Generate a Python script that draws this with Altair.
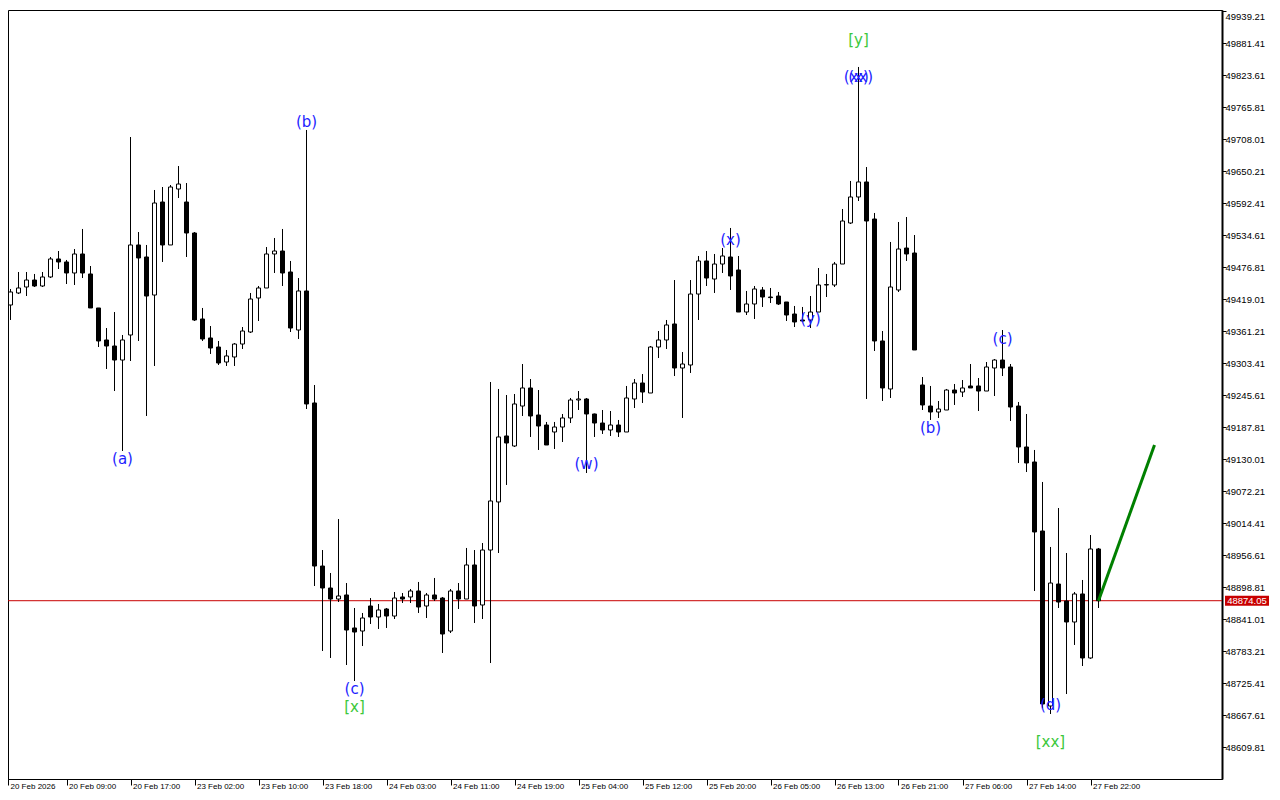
import json
import altair as alt
import pandas as pd

# ---- candle data (hourly bars, index 0..137) ----
open_ = [49382.9, 49408.2, 49429.9, 49440.7, 49453.3, 49442.5, 49458.8, 49491.3, 49485.9, 49466.0,
         49500.3, 49464.2, 49402.8, 49345.0, 49334.1, 49308.8, 49354.0, 49516.6, 49494.9, 49426.2,
         49594.2, 49516.6, 49617.7, 49594.2, 49538.2, 49382.9, 49348.6, 49332.3, 49305.2, 49314.3,
         49337.7, 49359.4, 49420.8, 49438.9, 49500.3, 49505.7, 49467.8, 49363.0, 49433.5, 49231.2,
         48936.7, 48897.0, 48877.1, 48884.4, 48824.8, 48819.3, 48864.5, 48844.6, 48859.1, 48846.4,
         48880.8, 48880.8, 48891.6, 48864.5, 48884.4, 48878.9, 48819.3, 48891.6, 48877.1, 48938.6,
         48866.3, 48965.6, 49052.4, 49171.6, 49153.5, 49225.7, 49258.3, 49209.5, 49191.4, 49178.8,
         49187.8, 49204.1, 49236.6, 49238.4, 49211.3, 49195.0, 49182.4, 49191.4, 49178.8, 49238.4,
         49267.3, 49249.2, 49332.3, 49345.0, 49373.9, 49294.4, 49299.8, 49428.0, 49487.7, 49455.1,
         49482.2, 49494.9, 49471.4, 49395.5, 49410.0, 49435.3, 49422.6, 49424.4, 49413.6, 49391.9,
         49381.1, 49381.1, 49395.5, 49444.3, 49444.3, 49482.2, 49556.3, 49603.3, 49630.4, 49563.5,
         49343.2, 49256.5, 49435.3, 49511.1, 49502.1, 49263.7, 49225.7, 49214.9, 49218.5, 49254.6,
         49251.0, 49261.9, 49261.9, 49252.8, 49294.4, 49308.8, 49296.2, 49225.7, 49151.7, 49124.6,
         48999.96, 48683.9, 48904.2, 48873.5, 48835.6, 48886.2, 48770.6, 48967.5]
high = [49408.2, 49437.1, 49467.8, 49467.8, 49464.2, 49467.8, 49494.9, 49505.7, 49489.5, 49509.3,
        49545.5, 49478.6, 49402.8, 49366.6, 49395.5, 49354.0, 49711.6, 49540.0, 49516.6, 49615.9,
        49621.3, 49624.9, 49659.2, 49628.5, 49540.0, 49402.8, 49370.2, 49343.2, 49326.9, 49339.5,
        49368.4, 49429.9, 49442.5, 49512.9, 49529.2, 49545.5, 49487.7, 49456.9, 49724.3, 49263.7,
        48965.6, 48924.1, 49021.6, 48906.0, 48860.9, 48851.9, 48878.9, 48868.1, 48860.9, 48889.8,
        48888.0, 48895.2, 48907.9, 48888.0, 48915.1, 48880.8, 48895.2, 48906.0, 48969.3, 48965.6,
        48978.3, 49269.1, 49256.5, 49245.6, 49247.4, 49301.6, 49274.5, 49254.6, 49196.9, 49196.9,
        49211.3, 49240.2, 49252.8, 49240.2, 49212.0, 49218.5, 49216.7, 49200.5, 49261.9, 49274.5,
        49283.5, 49334.1, 49361.2, 49381.1, 49453.3, 49323.3, 49453.3, 49496.7, 49505.7, 49500.3,
        49511.1, 49547.3, 49496.7, 49433.5, 49442.5, 49440.7, 49438.9, 49431.7, 49413.6, 49406.4,
        49404.6, 49424.4, 49475.0, 49464.2, 49485.9, 49581.6, 49632.2, 49838.1, 49657.4, 49574.4,
        49361.2, 49522.0, 49558.1, 49567.1, 49534.6, 49278.1, 49261.9, 49234.8, 49256.5, 49265.5,
        49272.7, 49301.6, 49276.3, 49305.2, 49310.6, 49363.0, 49301.6, 49233.0, 49211.3, 49146.3,
        49088.5, 48971.1, 49041.5, 48960.2, 48889.8, 48911.5, 48992.7, 48969.3]
low = [49381.1, 49381.1, 49428.0, 49424.4, 49440.7, 49440.7, 49456.9, 49473.2, 49446.1, 49444.3,
       49456.9, 49402.8, 49332.3, 49292.6, 49252.8, 49144.5, 49307.0, 49343.2, 49207.7, 49298.0,
       49485.9, 49516.6, 49601.4, 49494.9, 49379.3, 49343.2, 49319.7, 49299.8, 49298.0, 49298.0,
       49328.7, 49357.6, 49379.3, 49438.9, 49466.0, 49442.5, 49359.4, 49346.8, 49220.3, 48900.6,
       48783.2, 48770.6, 48871.7, 48757.9, 48729.0, 48792.2, 48832.0, 48823.0, 48824.8, 48841.0,
       48869.9, 48869.9, 48851.9, 48842.8, 48873.5, 48779.6, 48815.7, 48859.1, 48877.1, 48833.8,
       48841.0, 48761.5, 48960.2, 49083.1, 49151.7, 49207.7, 49169.8, 49146.3, 49155.3, 49148.1,
       49160.7, 49195.0, 49218.5, 49104.7, 49169.8, 49175.2, 49171.6, 49169.8, 49178.8, 49222.1,
       49231.2, 49249.2, 49312.4, 49328.7, 49279.9, 49204.1, 49285.4, 49381.1, 49442.5, 49429.9,
       49466.0, 49435.3, 49395.5, 49390.1, 49382.9, 49404.6, 49411.8, 49408.2, 49379.3, 49368.4,
       49377.5, 49366.6, 49395.5, 49422.6, 49440.7, 49482.2, 49554.5, 49596.0, 49238.4, 49325.1,
       49234.8, 49240.2, 49431.7, 49487.7, 49326.9, 49218.5, 49200.5, 49204.1, 49218.5, 49227.6,
       49242.0, 49258.3, 49216.7, 49252.8, 49243.8, 49279.9, 49198.7, 49122.8, 49106.5, 48891.6,
       48680.3, 48669.4, 48860.9, 48705.5, 48794.1, 48756.1, 48769.0, 48860.9]
close = [49404.6, 49431.7, 49438.9, 49453.3, 49442.5, 49458.8, 49491.3, 49485.9, 49466.0, 49500.3,
         49466.0, 49402.8, 49343.2, 49334.1, 49308.8, 49345.0, 49516.6, 49493.1, 49424.4, 49592.4,
         49516.6, 49621.3, 49626.7, 49538.2, 49381.1, 49346.8, 49330.5, 49303.4, 49316.1, 49337.7,
         49361.2, 49419.0, 49438.9, 49500.3, 49505.7, 49466.0, 49366.6, 49433.5, 49229.4, 48936.7,
         48897.0, 48877.1, 48882.6, 48821.1, 48817.5, 48842.8, 48844.6, 48857.3, 48846.4, 48878.9,
         48877.1, 48891.6, 48862.7, 48884.4, 48877.1, 48813.9, 48891.6, 48877.1, 48938.6, 48864.5,
         48965.6, 49054.2, 49169.8, 49158.9, 49229.4, 49258.3, 49207.7, 49189.6, 49155.3, 49187.8,
         49204.1, 49236.6, 49238.4, 49211.3, 49195.0, 49182.4, 49191.4, 49178.8, 49240.2, 49267.3,
         49251.0, 49332.3, 49345.0, 49372.1, 49294.4, 49301.6, 49428.0, 49487.7, 49456.9, 49482.2,
         49496.7, 49460.6, 49395.5, 49410.0, 49437.1, 49422.6, 49421.5, 49410.0, 49390.1, 49377.5,
         49379.3, 49395.5, 49444.3, 49445.1, 49482.2, 49559.9, 49603.3, 49630.4, 49559.9, 49343.2,
         49258.3, 49440.7, 49509.3, 49500.3, 49326.9, 49227.6, 49214.9, 49220.3, 49254.6, 49249.2,
         49258.3, 49258.3, 49252.8, 49296.2, 49308.8, 49294.4, 49223.9, 49151.7, 49122.8, 48998.2,
         48687.5, 48906.0, 48871.7, 48835.6, 48886.2, 48770.6, 48967.5, 48874.05]

# ---- axis labels ----
time_labels = ["20 Feb 2026", "20 Feb 09:00", "20 Feb 17:00", "23 Feb 02:00", "23 Feb 10:00",
               "23 Feb 18:00", "24 Feb 03:00", "24 Feb 11:00", "24 Feb 19:00", "25 Feb 04:00",
               "25 Feb 12:00", "25 Feb 20:00", "26 Feb 05:00", "26 Feb 13:00", "26 Feb 21:00",
               "27 Feb 06:00", "27 Feb 14:00", "27 Feb 22:00"]
time_tick_bars = [0.6875] + [8 * i for i in range(1, 18)]
price_ticks = [49939.21, 49881.41, 49823.61, 49765.81, 49708.01, 49650.21, 49592.41, 49534.61,
               49476.81, 49419.01, 49361.21, 49303.41, 49245.61, 49187.81, 49130.01, 49072.21,
               49014.41, 48956.61, 48898.81, 48841.01, 48783.21, 48725.41, 48667.61, 48609.81]

# ---- wave labels ----
wave_text = ["(a)", "(b)", "(c)", "[x]", "(w)", "(x)", "(y)", "(xx)", "(x)", "[y]", "(b)", "(c)", "(d)", "[xx]"]
wave_bar = [15, 38, 44, 44, 73, 91, 101, 107, 107, 107, 116, 125, 131, 131]
wave_price = [49130.0, 49738.7, 48714.6, 48682.1, 49121.0, 49525.6, 49382.9, 49820.0, 49820.0,
              49886.8, 49186.0, 49346.8, 48685.7, 48618.9]
wave_color = ["#1e1eff", "#1e1eff", "#1e1eff", "#3cc83c", "#1e1eff", "#1e1eff", "#1e1eff", "#1e1eff",
              "#1e1eff", "#3cc83c", "#1e1eff", "#1e1eff", "#1e1eff", "#3cc83c"]

# ---- projection line and current price ----
proj_bar = [137, 144.0]
proj_price = [48874.05, 49155.3]
last_price = 48874.05

candles = pd.DataFrame({"idx": list(range(len(open_))), "open": open_, "high": high,
                        "low": low, "close": close})
waves = pd.DataFrame({"idx": wave_bar, "price": wave_price, "txt": wave_text, "col": wave_color})
proj = pd.DataFrame({"idx": proj_bar, "price": proj_price})
lastdf = pd.DataFrame({"price": [last_price], "txt": [f"{last_price:.2f}"]})

W, H = 1214, 769
xscale = alt.Scale(domain=[0.6875, 0.6875 + W / 8], nice=False, zero=False, padding=0)
yscale = alt.Scale(domain=[48552.01, 49941.02], nice=False, zero=False, padding=0)

label_expr = json.dumps(time_labels) + "[round(datum.value / 8)]"
xaxis = alt.Axis(values=time_tick_bars, labelExpr=label_expr, title=None, grid=False,
                 tickSize=6, tickColor="black", domainColor="black", labelAlign="left",
                 labelBaseline="top", labelPadding=-3, labelOffset=2, labelFont="Liberation Sans",
                 labelFontSize=8, labelColor="black", labelFlush=False, labelOverlap=False,
                 labelBound=False)
yaxis = alt.Axis(orient="right", values=price_ticks, format=".2f", title=None, grid=False,
                 tickSize=4, tickColor="black", domainColor="black", domainWidth=2,
                 labelFont="Liberation Sans", labelFontSize=9.5, labelColor="black",
                 labelPadding=-1, labelOverlap=False, labelFlush=4, labelBound=False)


def X(field="idx"):
    return alt.X(field, type="quantitative", scale=xscale, axis=xaxis)


def Y(field):
    return alt.Y(field, type="quantitative", scale=yscale, axis=yaxis)


price_line = alt.Chart(lastdf).mark_rule(color="#c80000", strokeWidth=1).encode(y=Y("price"))

wicks = alt.Chart(candles).mark_rule(color="black", strokeWidth=1, clip=True).encode(
    x=X(), y=Y("low"), y2="high")

bodies = alt.Chart(candles).mark_bar(size=4, stroke="black", strokeWidth=1, clip=True).encode(
    x=X(), y=Y("open"), y2="close",
    fill=alt.condition(alt.datum.close >= alt.datum.open, alt.value("white"), alt.value("black")))

projection = alt.Chart(proj).mark_line(color="#008000", strokeWidth=3, clip=True).encode(
    x=X(), y=Y("price"))

labels = alt.Chart(waves).mark_text(font="DejaVu Sans", fontSize=15, baseline="middle",
                                    align="center").encode(
    x=X(), y=Y("price"), text="txt", color=alt.Color("col:N", scale=None))

tag_box = alt.Chart(lastdf).mark_rect(color="#c80000", yOffset=-5, y2Offset=5).encode(
    x=alt.value(W + 3), x2=alt.value(W + 47), y=Y("price"), y2="price")
tag_text = alt.Chart(lastdf).mark_text(color="white", font="Liberation Sans", fontSize=9.5,
                                       baseline="middle", align="center").encode(
    x=alt.value(W + 25), y=Y("price"), text="txt")

chart = alt.layer(price_line, wicks, bodies, projection, labels, tag_box, tag_text).properties(
    width=W, height=H, background="white",
    autosize=alt.AutoSizeParams(type="none"),
    padding={"left": 0, "top": 2, "right": 48, "bottom": 14},
).configure_view(stroke="black", strokeWidth=1)

chart.save("out.html", embed_options={"renderer": "svg", "actions": False})
